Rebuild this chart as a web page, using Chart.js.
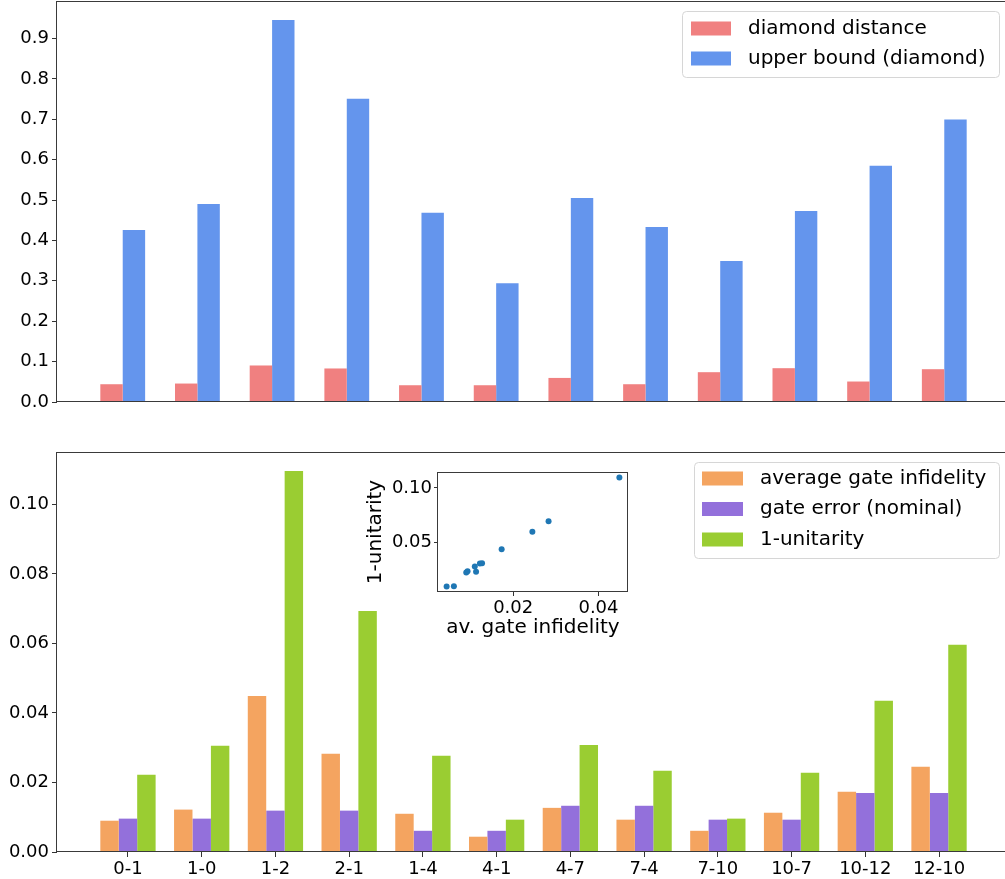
<!DOCTYPE html>
<html>
<head>
<meta charset="utf-8">
<script src="https://cdn.jsdelivr.net/npm/chart.js@4.4.0/dist/chart.umd.min.js"></script>
<style>
  html, body { margin: 0; padding: 0; background: #fff; overflow: hidden; width: 1005px; height: 879px; }
  canvas { position: absolute; }
  #topChart { left: 0; top: 0; }
  #bottomChart { left: 0; top: 440px; }
  #insetChart { left: 350px; top: 460px; }
</style>
</head>
<body>
<canvas id="topChart" width="1012" height="420"></canvas>
<canvas id="bottomChart" width="1012" height="439"></canvas>
<canvas id="insetChart" width="290" height="190"></canvas>
<script>
const categories = ['0-1', '1-0', '1-2', '2-1', '1-4', '4-1', '4-7', '7-4', '7-10', '10-7', '10-12', '12-10'];

// top panel
const diamondDistance = [0.044, 0.0457, 0.0904, 0.083, 0.0415, 0.0415, 0.0596, 0.044, 0.0738, 0.0837, 0.0507, 0.0812];
const upperBound = [0.4256, 0.490, 0.9454, 0.751, 0.4686, 0.294, 0.505, 0.433, 0.349, 0.473, 0.585, 0.6995];

// bottom panel
const avgInfidelity = [0.0090, 0.0122, 0.0449, 0.0283, 0.0110, 0.0044, 0.0127, 0.0093, 0.0061, 0.0113, 0.0173, 0.0245];
const gateError = [0.0096, 0.0096, 0.0119, 0.0119, 0.0061, 0.0061, 0.0133, 0.0133, 0.0093, 0.0093, 0.0170, 0.0170];
const unitarity = [0.0222, 0.0306, 0.1096, 0.0693, 0.0277, 0.0093, 0.0308, 0.0234, 0.0096, 0.0228, 0.0435, 0.0596];

const topTicks = [0, 0.1, 0.2, 0.3, 0.4, 0.5, 0.6, 0.7, 0.8, 0.9];
const bottomTicks = [0, 0.02, 0.04, 0.06, 0.08, 0.10];
const insetXTicks = [0.02, 0.04];
const insetYTicks = [0.05, 0.10];

Chart.defaults.font.family = '"DejaVu Sans", sans-serif';
Chart.defaults.font.size = 18;
Chart.defaults.color = '#000';
Chart.defaults.animation = false;

// matplotlib-like 5% margins
function padRange(lo, hi) {
  const d = hi - lo;
  return [lo - 0.05 * d, hi + 0.05 * d];
}
function toPoints(vals) {
  return vals.map((v, i) => ({ x: i, y: v }));
}
// fixed axis box, no extra label padding pushed into the chart area
function fixWidth(w) {
  return s => { s.width = w; s.paddingTop = 0; s.paddingBottom = 0; s.paddingLeft = 0; s.paddingRight = 0; };
}
function fixHeight(h) {
  return s => { s.height = h; s.paddingTop = 0; s.paddingBottom = 0; s.paddingLeft = 0; s.paddingRight = 0; };
}

const axesFrame = {
  id: 'axesFrame',
  beforeDraw(chart, args, opts) {
    if (!opts.fill) return;
    const a = chart.chartArea;
    chart.ctx.save();
    chart.ctx.fillStyle = opts.fill;
    chart.ctx.fillRect(a.left, a.top, a.right - a.left, a.bottom - a.top);
    chart.ctx.restore();
  },
  afterDraw(chart, args, opts) {
    const a = chart.chartArea;
    const ctx = chart.ctx;
    ctx.save();
    ctx.strokeStyle = opts.color || '#333';
    ctx.lineWidth = 1;
    const l = Math.round(a.left) - 0.5, t = Math.round(a.top) + 0.5;
    const r = Math.round(a.right) - 0.5, b = Math.round(a.bottom) - 0.5;
    ctx.strokeRect(l, t, r - l, b - t);
    ctx.restore();
  }
};

const boxLegend = {
  id: 'boxLegend',
  afterDraw(chart, args, opts) {
    if (!opts.box) return;
    const ctx = chart.ctx;
    const [x0, y0, x1, y1] = opts.box;
    ctx.save();
    ctx.beginPath();
    ctx.roundRect(x0 + 0.5, y0 + 0.5, x1 - x0, y1 - y0, 4);
    ctx.fillStyle = 'rgba(255,255,255,0.8)';
    ctx.fill();
    ctx.strokeStyle = '#d6d6d6';
    ctx.lineWidth = 1;
    ctx.stroke();
    ctx.font = '20px "DejaVu Sans"';
    ctx.textBaseline = 'middle';
    chart.data.datasets.forEach((d, i) => {
      const cy = opts.firstRow + i * opts.rowGap;
      ctx.fillStyle = d.backgroundColor;
      ctx.fillRect(opts.patchX, cy - 7, opts.patchW, 14);
      ctx.fillStyle = '#000';
      ctx.fillText(d.label, opts.textX, cy);
    });
    ctx.restore();
  }
};

// top chart
const topX = padRange(-0.3, categories.length - 1 + 0.3);
new Chart(document.getElementById('topChart'), {
  type: 'bar',
  data: {
    datasets: [
      { label: 'diamond distance', data: toPoints(diamondDistance), backgroundColor: '#F08080' },
      { label: 'upper bound (diamond)', data: toPoints(upperBound), backgroundColor: '#6495ED' }
    ]
  },
  plugins: [axesFrame, boxLegend],
  options: {
    responsive: false,
    layout: { padding: { top: 1, right: 2, left: 0, bottom: 0 } },
    datasets: { bar: { categoryPercentage: 0.6, barPercentage: 1 } },
    plugins: {
      legend: { display: false },
      tooltip: { enabled: false },
      axesFrame: { color: '#3a3a3a' },
      boxLegend: { box: [682, 11, 999, 77], firstRow: 28.5, rowGap: 30, patchX: 691, patchW: 40, textX: 748 }
    },
    scales: {
      x: {
        type: 'linear', offset: false, min: topX[0], max: topX[1],
        afterBuildTicks(s) { s.ticks = categories.map((c, i) => ({ value: i })); },
        ticks: { display: false },
        grid: { display: false, offset: false }, border: { display: false },
        afterFit: fixHeight(18)
      },
      y: {
        min: 0, max: Math.max(...upperBound) * 1.05,
        afterBuildTicks(s) { s.ticks = topTicks.map(v => ({ value: v })); },
        ticks: { padding: 3, callback: v => v.toFixed(1) },
        grid: { drawOnChartArea: false, tickLength: 5, color: '#333' },
        border: { display: false },
        afterFit: fixWidth(57)
      }
    }
  }
});

// bottom chart
const bottomX = padRange(-0.375, categories.length - 1 + 0.375);
new Chart(document.getElementById('bottomChart'), {
  type: 'bar',
  data: {
    datasets: [
      { label: 'average gate infidelity', data: toPoints(avgInfidelity), backgroundColor: '#F4A460' },
      { label: 'gate error (nominal)', data: toPoints(gateError), backgroundColor: '#9370DB' },
      { label: '1-unitarity', data: toPoints(unitarity), backgroundColor: '#9ACD32' }
    ]
  },
  plugins: [axesFrame, boxLegend],
  options: {
    responsive: false,
    layout: { padding: { top: 12, right: 2, left: 0, bottom: 0 } },
    datasets: { bar: { categoryPercentage: 0.75, barPercentage: 1 } },
    plugins: {
      legend: { display: false },
      tooltip: { enabled: false },
      axesFrame: { color: '#3a3a3a' },
      boxLegend: { box: [694, 22, 999, 118], firstRow: 38.5, rowGap: 30.5, patchX: 702, patchW: 41, textX: 760 }
    },
    scales: {
      x: {
        type: 'linear', offset: false, min: bottomX[0], max: bottomX[1],
        afterBuildTicks(s) { s.ticks = categories.map((c, i) => ({ value: i })); },
        ticks: { padding: 2, autoSkip: false, maxRotation: 0, callback: v => categories[v] },
        grid: { drawOnChartArea: false, offset: false, tickLength: 5, color: '#333' },
        border: { display: false },
        afterFit: fixHeight(27)
      },
      y: {
        min: 0, max: Math.max(...unitarity) * 1.05,
        afterBuildTicks(s) { s.ticks = bottomTicks.map(v => ({ value: v })); },
        ticks: { padding: 3, callback: v => v.toFixed(2) },
        grid: { drawOnChartArea: false, tickLength: 5, color: '#333' },
        border: { display: false },
        afterFit: fixWidth(57)
      }
    }
  }
});

// inset scatter: 1-unitarity vs average gate infidelity
const insetX = padRange(Math.min(...avgInfidelity), Math.max(...avgInfidelity));
const insetY = padRange(Math.min(...unitarity), Math.max(...unitarity));
new Chart(document.getElementById('insetChart'), {
  type: 'scatter',
  data: {
    datasets: [{
      data: avgInfidelity.map((v, i) => ({ x: v, y: unitarity[i] })),
      backgroundColor: '#1f77b4',
      borderWidth: 0,
      pointRadius: 3
    }]
  },
  plugins: [axesFrame],
  options: {
    responsive: false,
    layout: { padding: { top: 12, right: 12, left: 0, bottom: 0 } },
    plugins: {
      legend: { display: false },
      tooltip: { enabled: false },
      axesFrame: { color: '#3a3a3a', fill: '#fff' }
    },
    scales: {
      x: {
        min: insetX[0], max: insetX[1],
        afterBuildTicks(s) { s.ticks = insetXTicks.map(v => ({ value: v })); },
        ticks: { padding: 2, callback: v => v.toFixed(2) },
        grid: { drawOnChartArea: false, tickLength: 4, color: '#333' },
        border: { display: false },
        title: { display: true, text: 'av. gate infidelity', font: { size: 20, lineHeight: 1.2 }, padding: { top: 0, bottom: 10 } },
        afterFit: fixHeight(58)
      },
      y: {
        min: insetY[0], max: insetY[1],
        afterBuildTicks(s) { s.ticks = insetYTicks.map(v => ({ value: v })); },
        ticks: { padding: 2, callback: v => v.toFixed(2) },
        grid: { drawOnChartArea: false, tickLength: 4, color: '#333' },
        border: { display: false },
        title: { display: true, text: '1-unitarity', font: { size: 20, lineHeight: 1.2 }, padding: { top: 14, bottom: 0 } },
        afterFit: fixWidth(88)
      }
    }
  }
});
</script>
</body>
</html>
